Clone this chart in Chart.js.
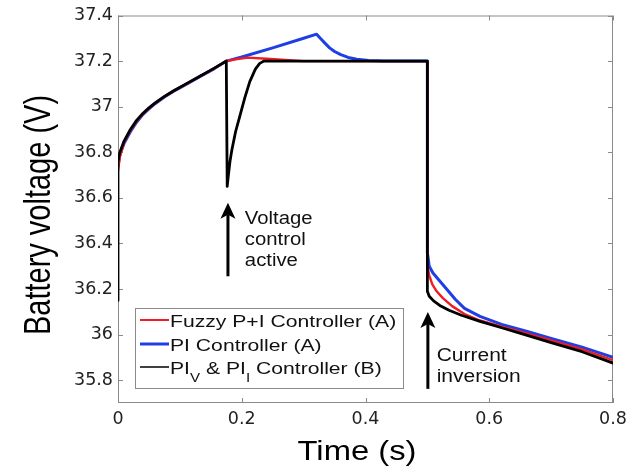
<!DOCTYPE html>
<html>
<head>
<meta charset="utf-8">
<script src="https://cdn.jsdelivr.net/npm/chart.js@4.4.1/dist/chart.umd.min.js"></script>
<style>
  html, body { margin: 0; padding: 0; background: #fff; }
</style>
</head>
<body>
<canvas id="myChart" width="641" height="472"></canvas>
<script>
let xTicks = [0, 0.2, 0.4, 0.6, 0.8];
let yTicks = [35.8, 36, 36.2, 36.4, 36.6, 36.8, 37, 37.2, 37.4];

// PI_V & PI_I controller (B) - black
let pivTime = [0, 0, 0.003, 0.01, 0.02, 0.03, 0.04, 0.05, 0.06, 0.075, 0.09, 0.11, 0.13, 0.155, 0.175,
  0.1765, 0.178, 0.181, 0.184, 0.19, 0.197, 0.205, 0.213, 0.222, 0.229, 0.236, 0.3, 0.4, 0.5,
  0.5, 0.503, 0.51, 0.52, 0.535, 0.555, 0.585, 0.62, 0.66, 0.7, 0.75, 0.8];
let pivVolt = [36.15, 36.76, 36.8, 36.85, 36.9, 36.94, 36.97, 36.995, 37.017, 37.045, 37.07, 37.1, 37.13, 37.168, 37.2,
  36.65, 36.69, 36.76, 36.81, 36.89, 36.96, 37.04, 37.11, 37.165, 37.19, 37.2, 37.2, 37.2, 37.2,
  36.19, 36.168, 36.148, 36.128, 36.107, 36.085, 36.058, 36.03, 35.998, 35.965, 35.925, 35.875];

// PI controller (A) - blue
let piTime = [0, 0.003, 0.01, 0.02, 0.03, 0.04, 0.05, 0.06, 0.075, 0.09, 0.11, 0.13, 0.155, 0.175,
  0.2, 0.25, 0.3, 0.321, 0.327, 0.334, 0.342, 0.35, 0.36, 0.372, 0.386, 0.405, 0.43, 0.5,
  0.5, 0.503, 0.509, 0.52, 0.531, 0.545, 0.56, 0.585, 0.62, 0.66, 0.7, 0.75, 0.8];
let piVolt = [36.74, 36.79, 36.84, 36.89, 36.932, 36.965, 36.99, 37.013, 37.042, 37.068, 37.098, 37.128, 37.166, 37.2,
  37.218, 37.258, 37.3, 37.318, 37.3, 37.28, 37.258, 37.242, 37.228, 37.216, 37.208, 37.203, 37.2, 37.2,
  36.36, 36.3, 36.27, 36.235, 36.2, 36.155, 36.115, 36.08, 36.045, 36.015, 35.983, 35.945, 35.9];

// Fuzzy P+I controller (A) - red
let fuzzyTime = [0, 0.003, 0.01, 0.02, 0.03, 0.04, 0.05, 0.06, 0.075, 0.09, 0.11, 0.13, 0.155, 0.175,
  0.19, 0.21, 0.24, 0.27, 0.3, 0.5,
  0.5, 0.503, 0.508, 0.515, 0.525, 0.54, 0.56, 0.585, 0.62, 0.66, 0.7, 0.75, 0.8];
let fuzzyVolt = [36.72, 36.78, 36.845, 36.895, 36.936, 36.967, 36.993, 37.015, 37.044, 37.069, 37.099, 37.129, 37.167, 37.2,
  37.208, 37.215, 37.21, 37.205, 37.2, 37.2,
  36.3, 36.26, 36.22, 36.19, 36.16, 36.125, 36.09, 36.062, 36.035, 36.005, 35.975, 35.935, 35.888];

let legendLabels = [
  [["Fuzzy P+I Controller (A)", false]],
  [["PI Controller (A)", false]],
  [["PI", false], ["V", true], [" & PI", false], ["I", true], [" Controller (B)", false]],
];
let legendColors = ["#ee1c24", "#1f3fe4", "#000000"];
let legendWidths = [2, 3, 1.5];

let toPoints = (t, v) => t.map((x, i) => ({ x: x, y: v[i] }));

let sansFont = '"Liberation Sans", Arial, sans-serif';

function wideText(ctx, text, x, y, size, sx) {
  ctx.save();
  ctx.translate(x, y);
  ctx.scale(sx, 1);
  ctx.font = size + "px " + sansFont;
  ctx.fillText(text, 0, 0);
  let w = ctx.measureText(text).width * sx;
  ctx.restore();
  return w;
}

function arrow(ctx, px, tipY, baseY) {
  ctx.save();
  ctx.fillStyle = "#000";
  ctx.strokeStyle = "#000";
  ctx.lineWidth = 3;
  ctx.beginPath();
  ctx.moveTo(px, tipY + 12);
  ctx.lineTo(px, baseY);
  ctx.stroke();
  ctx.beginPath();
  ctx.moveTo(px, tipY);
  ctx.lineTo(px + 7.5, tipY + 16);
  ctx.lineTo(px, tipY + 12);
  ctx.lineTo(px - 7.5, tipY + 16);
  ctx.closePath();
  ctx.fill();
  ctx.restore();
}

let framePlugin = {
  id: "frame",
  beforeDatasetsDraw(chart) {
    let { ctx, chartArea: a, scales } = chart;
    ctx.save();
    ctx.strokeStyle = "#8a8a8a";
    ctx.lineWidth = 1;
    ctx.strokeRect(a.left + 0.5, a.top + 0.5, a.right - a.left - 1, a.bottom - a.top - 1);
    ctx.beginPath();
    for (let v of yTicks) {
      let py = Math.round(scales.y.getPixelForValue(v)) + 0.5;
      ctx.moveTo(a.left, py); ctx.lineTo(a.left + 5, py);
      ctx.moveTo(a.right, py); ctx.lineTo(a.right - 5, py);
    }
    for (let v of xTicks) {
      let px = Math.round(scales.x.getPixelForValue(v)) + 0.5;
      ctx.moveTo(px, a.top); ctx.lineTo(px, a.top + 5);
      ctx.moveTo(px, a.bottom); ctx.lineTo(px, a.bottom - 5);
    }
    ctx.stroke();
    ctx.restore();
  },
  afterDraw(chart) {
    let { ctx, scales } = chart;
    let X = (t) => scales.x.getPixelForValue(t);
    let Y = (v) => scales.y.getPixelForValue(v);

    // annotations
    arrow(ctx, X(0.1777), Y(36.579), Y(36.256));
    arrow(ctx, X(0.5008), Y(36.099), Y(35.762));
    ctx.save();
    ctx.fillStyle = "#111";
    ctx.textBaseline = "alphabetic";
    wideText(ctx, "Voltage", X(0.205), 224, 17.5, 1.16);
    wideText(ctx, "control", X(0.205), 245, 17.5, 1.16);
    wideText(ctx, "active", X(0.205), 266, 17.5, 1.16);
    wideText(ctx, "Current", X(0.515), 361, 17.5, 1.2);
    wideText(ctx, "inversion", X(0.515), 382, 17.5, 1.2);
    ctx.restore();

    // legend
    ctx.save();
    ctx.fillStyle = "#fff";
    ctx.fillRect(135, 308, 268, 80);
    ctx.strokeStyle = "#8a8a8a";
    ctx.lineWidth = 1;
    ctx.strokeRect(135.5, 308.5, 268, 80);
    let rowBase = [327, 351, 374];
    legendLabels.forEach((parts, i) => {
      ctx.strokeStyle = legendColors[i];
      ctx.lineWidth = legendWidths[i];
      ctx.beginPath();
      ctx.moveTo(140, rowBase[i] - 7);
      ctx.lineTo(169, rowBase[i] - 7);
      ctx.stroke();
      ctx.fillStyle = "#111";
      let x = 170;
      for (let [txt, sub] of parts) {
        if (sub) x += wideText(ctx, txt, x, rowBase[i] + 8, 12, 1.26);
        else x += wideText(ctx, txt, x, rowBase[i], 16.8, 1.26);
      }
    });
    ctx.restore();

    // axis titles
    ctx.save();
    ctx.fillStyle = "#000";
    ctx.textAlign = "center";
    wideText(ctx, "Time (s)", 357, 460, 28, 1.17);
    ctx.translate(50, 215);
    ctx.scale(1.3, 1);
    ctx.rotate(-Math.PI / 2);
    ctx.font = "29px " + sansFont;
    ctx.fillText("Battery voltage (V)", 0, 0);
    ctx.restore();
  },
};

let tickFont = { family: '"DejaVu Sans", sans-serif', size: 17.5 };

let myChart = new Chart(document.getElementById("myChart"), {
  type: "line",
  data: {
    datasets: [
      {
        label: "PI_V & PI_I Controller (B)",
        data: toPoints(pivTime, pivVolt),
        borderColor: "#000000",
        borderWidth: 2.8,
      },
      {
        label: "Fuzzy P+I Controller (A)",
        data: toPoints(fuzzyTime, fuzzyVolt),
        borderColor: "#ee1c24",
        borderWidth: 2.4,
      },
      {
        label: "PI Controller (A)",
        data: toPoints(piTime, piVolt),
        borderColor: "#1f3fe4",
        borderWidth: 3,
      },
    ],
  },
  options: {
    responsive: false,
    animation: false,
    devicePixelRatio: 1,
    events: [],
    layout: { padding: { top: 15, right: 28, left: 0, bottom: 0 } },
    elements: {
      point: { radius: 0 },
      line: { tension: 0, borderJoinStyle: "round", borderCapStyle: "round" },
    },
    plugins: { legend: { display: false }, tooltip: { enabled: false } },
    scales: {
      x: {
        type: "linear",
        min: 0,
        max: 0.8,
        afterBuildTicks: (scale) => { scale.ticks = xTicks.map((v) => ({ value: v })); },
        afterFit: (scale) => { scale.height = 69; },
        grid: { display: false, drawTicks: false },
        border: { display: false },
        ticks: {
          autoSkip: false,
          maxRotation: 0,
          padding: 6,
          color: "#222",
          font: tickFont,
          callback: (v) => String(v),
        },
      },
      y: {
        type: "linear",
        min: 35.7,
        max: 37.4,
        afterBuildTicks: (scale) => { scale.ticks = yTicks.map((v) => ({ value: v })); },
        afterFit: (scale) => { scale.width = 118; },
        grid: { display: false, drawTicks: false },
        border: { display: false },
        ticks: {
          autoSkip: false,
          padding: 5,
          color: "#222",
          font: tickFont,
          callback: (v) => String(v),
        },
      },
    },
  },
  plugins: [framePlugin],
});
</script>
</body>
</html>
